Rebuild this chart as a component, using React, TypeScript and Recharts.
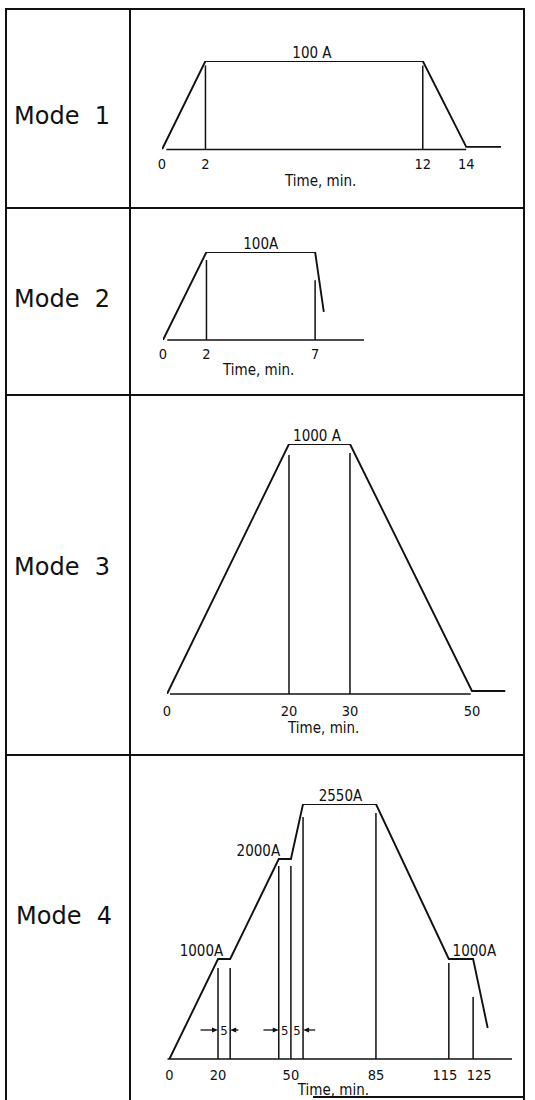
import React from 'react';
import { ComposedChart, Line, XAxis, YAxis, ReferenceLine, ReferenceDot } from 'recharts';

// Mode 1: current profile, min / A
const mode1Time = [0, 2, 12, 14, 15.6];
const mode1Amps = [0, 100, 100, 3, 3];
const mode1Ticks = [0, 2, 12, 14];
const mode1Marks = [2, 12];
const mode1MarkTops = [95, 95];
const mode1Base = [0.2, 14];
const mode1LabelText = ['100 A'];
const mode1LabelTime = [6.9];
const mode1LabelAmps = [100];

// Mode 2
const mode2Time = [0, 2, 7, 7.4];
const mode2Amps = [0, 100, 100, 32];
const mode2Ticks = [0, 2, 7];
const mode2Marks = [2, 7];
const mode2MarkTops = [91, 68];
const mode2Base = [0.2, 9.25];
const mode2LabelText = ['100A'];
const mode2LabelTime = [4.5];
const mode2LabelAmps = [100];

// Mode 3
const mode3Time = [0, 20, 30, 50, 55.5];
const mode3Amps = [0, 1000, 1000, 12, 12];
const mode3Ticks = [0, 20, 30, 50];
const mode3Marks = [20, 30];
const mode3MarkTops = [956, 964];
const mode3Base = [0.5, 49.8];
const mode3LabelText = ['1000 A'];
const mode3LabelTime = [24.6];
const mode3LabelAmps = [1000];

// Mode 4
const mode4Time = [0, 20, 25, 45, 50, 55, 85, 115, 125, 131];
const mode4Amps = [0, 1000, 1000, 2000, 2000, 2550, 2550, 1000, 1000, 310];
const mode4Ticks = [0, 20, 50, 85, 115, 125];
const mode4Marks = [20, 25, 45, 50, 55, 85, 115, 125];
const mode4MarkTops = [910, 910, 1930, 1930, 2420, 2460, 960, 620];
const mode4Base = [-0.8, 141];
const mode4LabelText = ['1000A', '2000A', '2550A', '1000A'];
const mode4LabelTime = [13.2, 36.6, 70.4, 125.5];
const mode4LabelAmps = [1000, 2000, 2550, 1000];
// 5-minute hold dimensions
const mode4DimFrom = [12.8, 28.4, 38.7, 60];
const mode4DimTo = [20, 25, 45, 55];
const mode4DimAmps = 290;
const mode4DimTextTime = [22.5, 47.5, 52.5];
const mode4DimText = ['5', '5', '5'];

const INK = '#111111';
const NARROW = "'DejaVu Sans Condensed', 'DejaVu Sans', sans-serif";
const MT = 40;
const ML = 30;
const MR = 30;
const AXIS_H = 50;

const textShape = (text: string, dy: number, size: number) => (props: any) => (
  <text x={props.cx} y={props.cy + dy} textAnchor="middle" fontSize={size} fontFamily={NARROW} fill={INK}>
    {text}
  </text>
);

const Arrow = (props: any) => {
  const { x1, y1, x2, y2 } = props;
  const dir = Math.sign(x2 - x1);
  return (
    <g>
      <line x1={x1} y1={y1} x2={x2 - dir * 4} y2={y2} stroke={INK} strokeWidth={1.3} />
      <polygon points={`${x2},${y2} ${x2 - dir * 6},${y2 - 2.5} ${x2 - dir * 6},${y2 + 2.5}`} fill={INK} />
    </g>
  );
};

interface PanelProps {
  left: number;
  top: number;
  width: number;
  height: number;
  xDomain: [number, number];
  yMax: number;
  time: number[];
  amps: number[];
  ticks: number[];
  marks: number[];
  markTops: number[];
  base: number[];
  labelText: string[];
  labelTime: number[];
  labelAmps: number[];
  titleTime: number;
  titleDy: number;
  tickDy: number;
  tickShift?: Record<number, number>;
  children?: React.ReactNode;
}

function Panel(p: PanelProps) {
  const data = p.time.map((t, i) => ({ t, a: p.amps[i] }));
  return (
    <div style={{ position: 'absolute', left: p.left - ML, top: p.top - MT }}>
      <ComposedChart
        width={p.width + ML + MR}
        height={p.height + MT + AXIS_H}
        data={data}
        margin={{ top: MT, right: MR, bottom: 0, left: ML }}
      >
        <XAxis
          dataKey="t"
          type="number"
          domain={p.xDomain}
          ticks={p.ticks}
          interval={0}
          allowDataOverflow
          axisLine={false}
          tickLine={false}
          height={AXIS_H}
          tick={(tp: any) => (
            <text
              x={tp.x + ((p.tickShift && p.tickShift[tp.payload.value]) || 0)}
              y={tp.y + p.tickDy}
              textAnchor="middle"
              fontSize={14.5}
              fontFamily={NARROW}
              fill={INK}
            >
              {tp.payload.value}
            </text>
          )}
        />
        <YAxis type="number" domain={[0, p.yMax]} hide allowDataOverflow />
        <ReferenceLine
          segment={[{ x: p.base[0], y: 0 }, { x: p.base[1], y: 0 }]}
          stroke={INK}
          strokeWidth={1.7}
          ifOverflow="visible"
        />
        {p.marks.map((m, i) => (
          <ReferenceLine
            key={`m${i}`}
            segment={[{ x: m, y: 0 }, { x: m, y: p.markTops[i] }]}
            stroke={INK}
            strokeWidth={1.5}
            ifOverflow="visible"
          />
        ))}
        <Line
          dataKey="a"
          type="linear"
          stroke={INK}
          strokeWidth={1.9}
          dot={false}
          activeDot={false}
          isAnimationActive={false}
        />
        {p.labelText.map((s, i) => (
          <ReferenceDot
            key={`l${i}`}
            x={p.labelTime[i]}
            y={p.labelAmps[i]}
            r={0}
            ifOverflow="visible"
            shape={textShape(s, -3, 15)}
          />
        ))}
        <ReferenceDot
          x={p.titleTime}
          y={0}
          r={0}
          ifOverflow="visible"
          shape={textShape('Time, min.', p.titleDy, 15)}
        />
        {p.children}
      </ComposedChart>
    </div>
  );
}

const hLine = (left: number, top: number, width: number) => (
  <div style={{ position: 'absolute', left, top, width, height: 2, background: INK }} />
);
const vLine = (left: number, top: number, height: number) => (
  <div style={{ position: 'absolute', left, top, width: 2, height, background: INK }} />
);

const modeLabel = (text: string, left: number, center: number) => (
  <div
    style={{
      position: 'absolute',
      left,
      top: center - 13.5,
      height: 28,
      lineHeight: '28px',
      fontSize: 24,
      fontFamily: "'DejaVu Sans', sans-serif",
      color: INK,
      whiteSpace: 'pre',
    }}
  >
    {text}
  </div>
);

export default function App() {
  return (
    <div style={{ position: 'absolute', left: 0, top: 0, width: 535, height: 1100, background: '#fff', overflow: 'hidden' }}>
      {hLine(5, 8, 520)}
      {hLine(5, 207, 520)}
      {hLine(5, 394, 520)}
      {hLine(5, 754, 520)}
      {hLine(313, 1096, 212)}
      {vLine(5, 8, 1092)}
      {vLine(129, 8, 1092)}
      {vLine(523, 8, 1092)}

      {modeLabel('Mode  1', 14, 115)}
      {modeLabel('Mode  2', 14, 298)}
      {modeLabel('Mode  3', 14, 566)}
      {modeLabel('Mode  4', 16, 915)}

      <Panel
        left={162}
        top={60.5}
        width={339}
        height={88.5}
        xDomain={[0, 15.6]}
        yMax={100}
        time={mode1Time}
        amps={mode1Amps}
        ticks={mode1Ticks}
        marks={mode1Marks}
        markTops={mode1MarkTops}
        base={mode1Base}
        labelText={mode1LabelText}
        labelTime={mode1LabelTime}
        labelAmps={mode1LabelAmps}
        titleTime={7.3}
        titleDy={36}
        tickDy={11.5}
      />
      <Panel
        left={163}
        top={252}
        width={201}
        height={88}
        xDomain={[0, 9.25]}
        yMax={100}
        time={mode2Time}
        amps={mode2Amps}
        ticks={mode2Ticks}
        marks={mode2Marks}
        markTops={mode2MarkTops}
        base={mode2Base}
        labelText={mode2LabelText}
        labelTime={mode2LabelTime}
        labelAmps={mode2LabelAmps}
        titleTime={4.4}
        titleDy={35}
        tickDy={10.5}
      />
      <Panel
        left={167}
        top={444}
        width={338.5}
        height={250}
        xDomain={[0, 55.5]}
        yMax={1000}
        time={mode3Time}
        amps={mode3Amps}
        ticks={mode3Ticks}
        marks={mode3Marks}
        markTops={mode3MarkTops}
        base={mode3Base}
        labelText={mode3LabelText}
        labelTime={mode3LabelTime}
        labelAmps={mode3LabelAmps}
        titleTime={25.7}
        titleDy={39}
        tickDy={13.5}
      />
      <Panel
        left={166.6}
        top={804}
        width={345}
        height={255}
        xDomain={[-1, 141]}
        yMax={2550}
        time={mode4Time}
        amps={mode4Amps}
        ticks={mode4Ticks}
        marks={mode4Marks}
        markTops={mode4MarkTops}
        base={mode4Base}
        labelText={mode4LabelText}
        labelTime={mode4LabelTime}
        labelAmps={mode4LabelAmps}
        titleTime={67.5}
        titleDy={36}
        tickDy={12.5}
        tickShift={{ 115: -4, 125: 6 }}
      >
        {mode4DimFrom.map((f, i) => (
          <ReferenceLine
            key={`d${i}`}
            segment={[{ x: f, y: mode4DimAmps }, { x: mode4DimTo[i], y: mode4DimAmps }]}
            ifOverflow="visible"
            shape={Arrow}
          />
        ))}
        {mode4DimText.map((s, i) => (
          <ReferenceDot
            key={`dt${i}`}
            x={mode4DimTextTime[i]}
            y={mode4DimAmps}
            r={0}
            ifOverflow="visible"
            shape={textShape(s, 5, 13)}
          />
        ))}
      </Panel>
    </div>
  );
}
